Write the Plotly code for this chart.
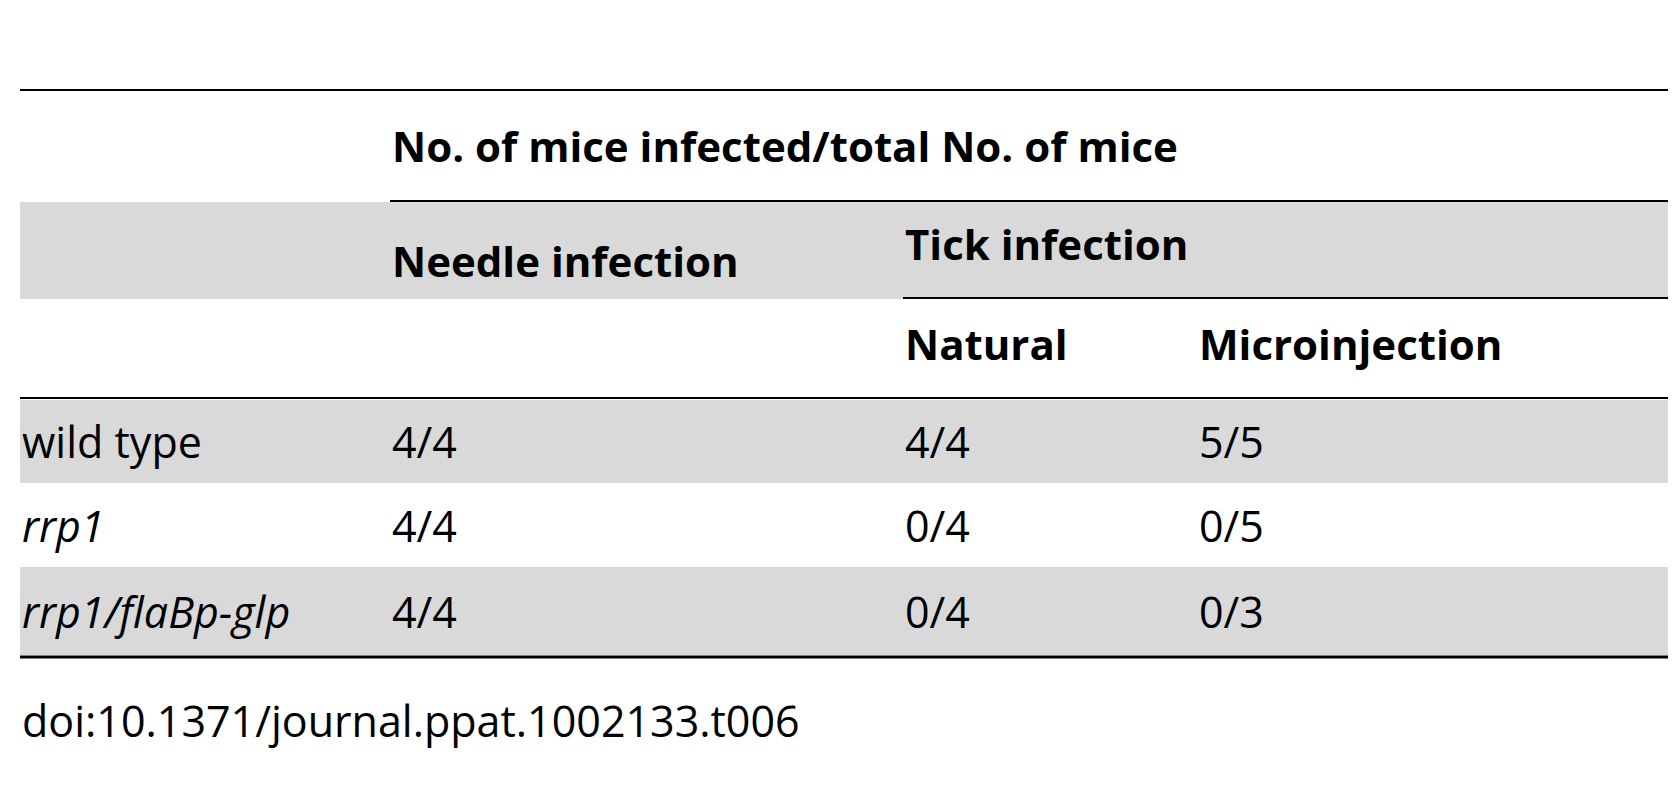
import plotly.graph_objects as go

W, H = 1676, 800
OFF = 8
strains = ["wild type", "<i>rrp1</i>", "<i>rrp1/flaBp-glp</i>"]
needle = ["4/4", "4/4", "4/4"]
natural = ["4/4", "0/4", "0/4"]
microinjection = ["5/5", "0/5", "0/3"]
header_top = "No. of mice infected/total No. of mice"
header_mid = ["Needle infection", "Tick infection"]
header_low = ["Natural", "Microinjection"]
footer = "doi:10.1371/journal.ppat.1002133.t006"

GRAY = "#d9d9d9"
FONT = "Open Sans"
FS = 43
FSB = 42
col_x = [20, 390, 903, 1197]
row_y = [(400, 483), (483, 567), (567, 655)]

fig = go.Figure()
shapes = []
def rect(x0, y0, x1, y1, c):
    shapes.append(dict(type="rect", x0=x0, y0=y0, x1=x1, y1=y1, fillcolor=c, line_width=0, layer="below"))
def line(x0, y0, x1, y1, w):
    shapes.append(dict(type="line", x0=x0, y0=y0, x1=x1, y1=y1, line=dict(color="black", width=w)))

rect(20, 202, W, 299, GRAY)
for i, (a, b) in enumerate(row_y):
    if i % 2 == 0:
        rect(20, a, W, b, GRAY)
line(0, 3, W, 3, 6)
line(3, 0, 3, 735, 6)
line(20, 90, W, 90, 2)
line(390, 201, W, 201, 2)
line(903, 298, W, 298, 2)
line(20, 398, W, 398, 2)
line(20, 657, W, 657, 3)

ann = []
def text(x, y, t, bold=False):
    ann.append(dict(x=x, y=y, text=f"<b>{t}</b>" if bold else t, showarrow=False,
                    xanchor="left", yanchor="middle",
                    font=dict(family=FONT, size=FSB if bold else FS, color="black")))
text(col_x[1], 145, header_top, True)
text(col_x[1], 260, header_mid[0], True)
text(col_x[2], 243, header_mid[1], True)
text(col_x[2], 343, header_low[0], True)
text(col_x[3], 343, header_low[1], True)
for i, (a, b) in enumerate(row_y):
    yc = (a + b) / 2
    for x, v in zip(col_x, [strains[i], needle[i], natural[i], microinjection[i]]):
        text(x, yc, v)
text(20, 720, footer)

fig.update_layout(width=W - 2 * OFF, height=H - 2 * OFF, margin=dict(l=0, r=0, t=0, b=0),
                  plot_bgcolor="white", paper_bgcolor="white", shapes=shapes, annotations=ann,
                  xaxis=dict(range=[OFF, W - OFF], visible=False, fixedrange=True),
                  yaxis=dict(range=[H - OFF, OFF], visible=False, fixedrange=True), showlegend=False)
fig.write_html("out.html", config={"displayModeBar": False})
